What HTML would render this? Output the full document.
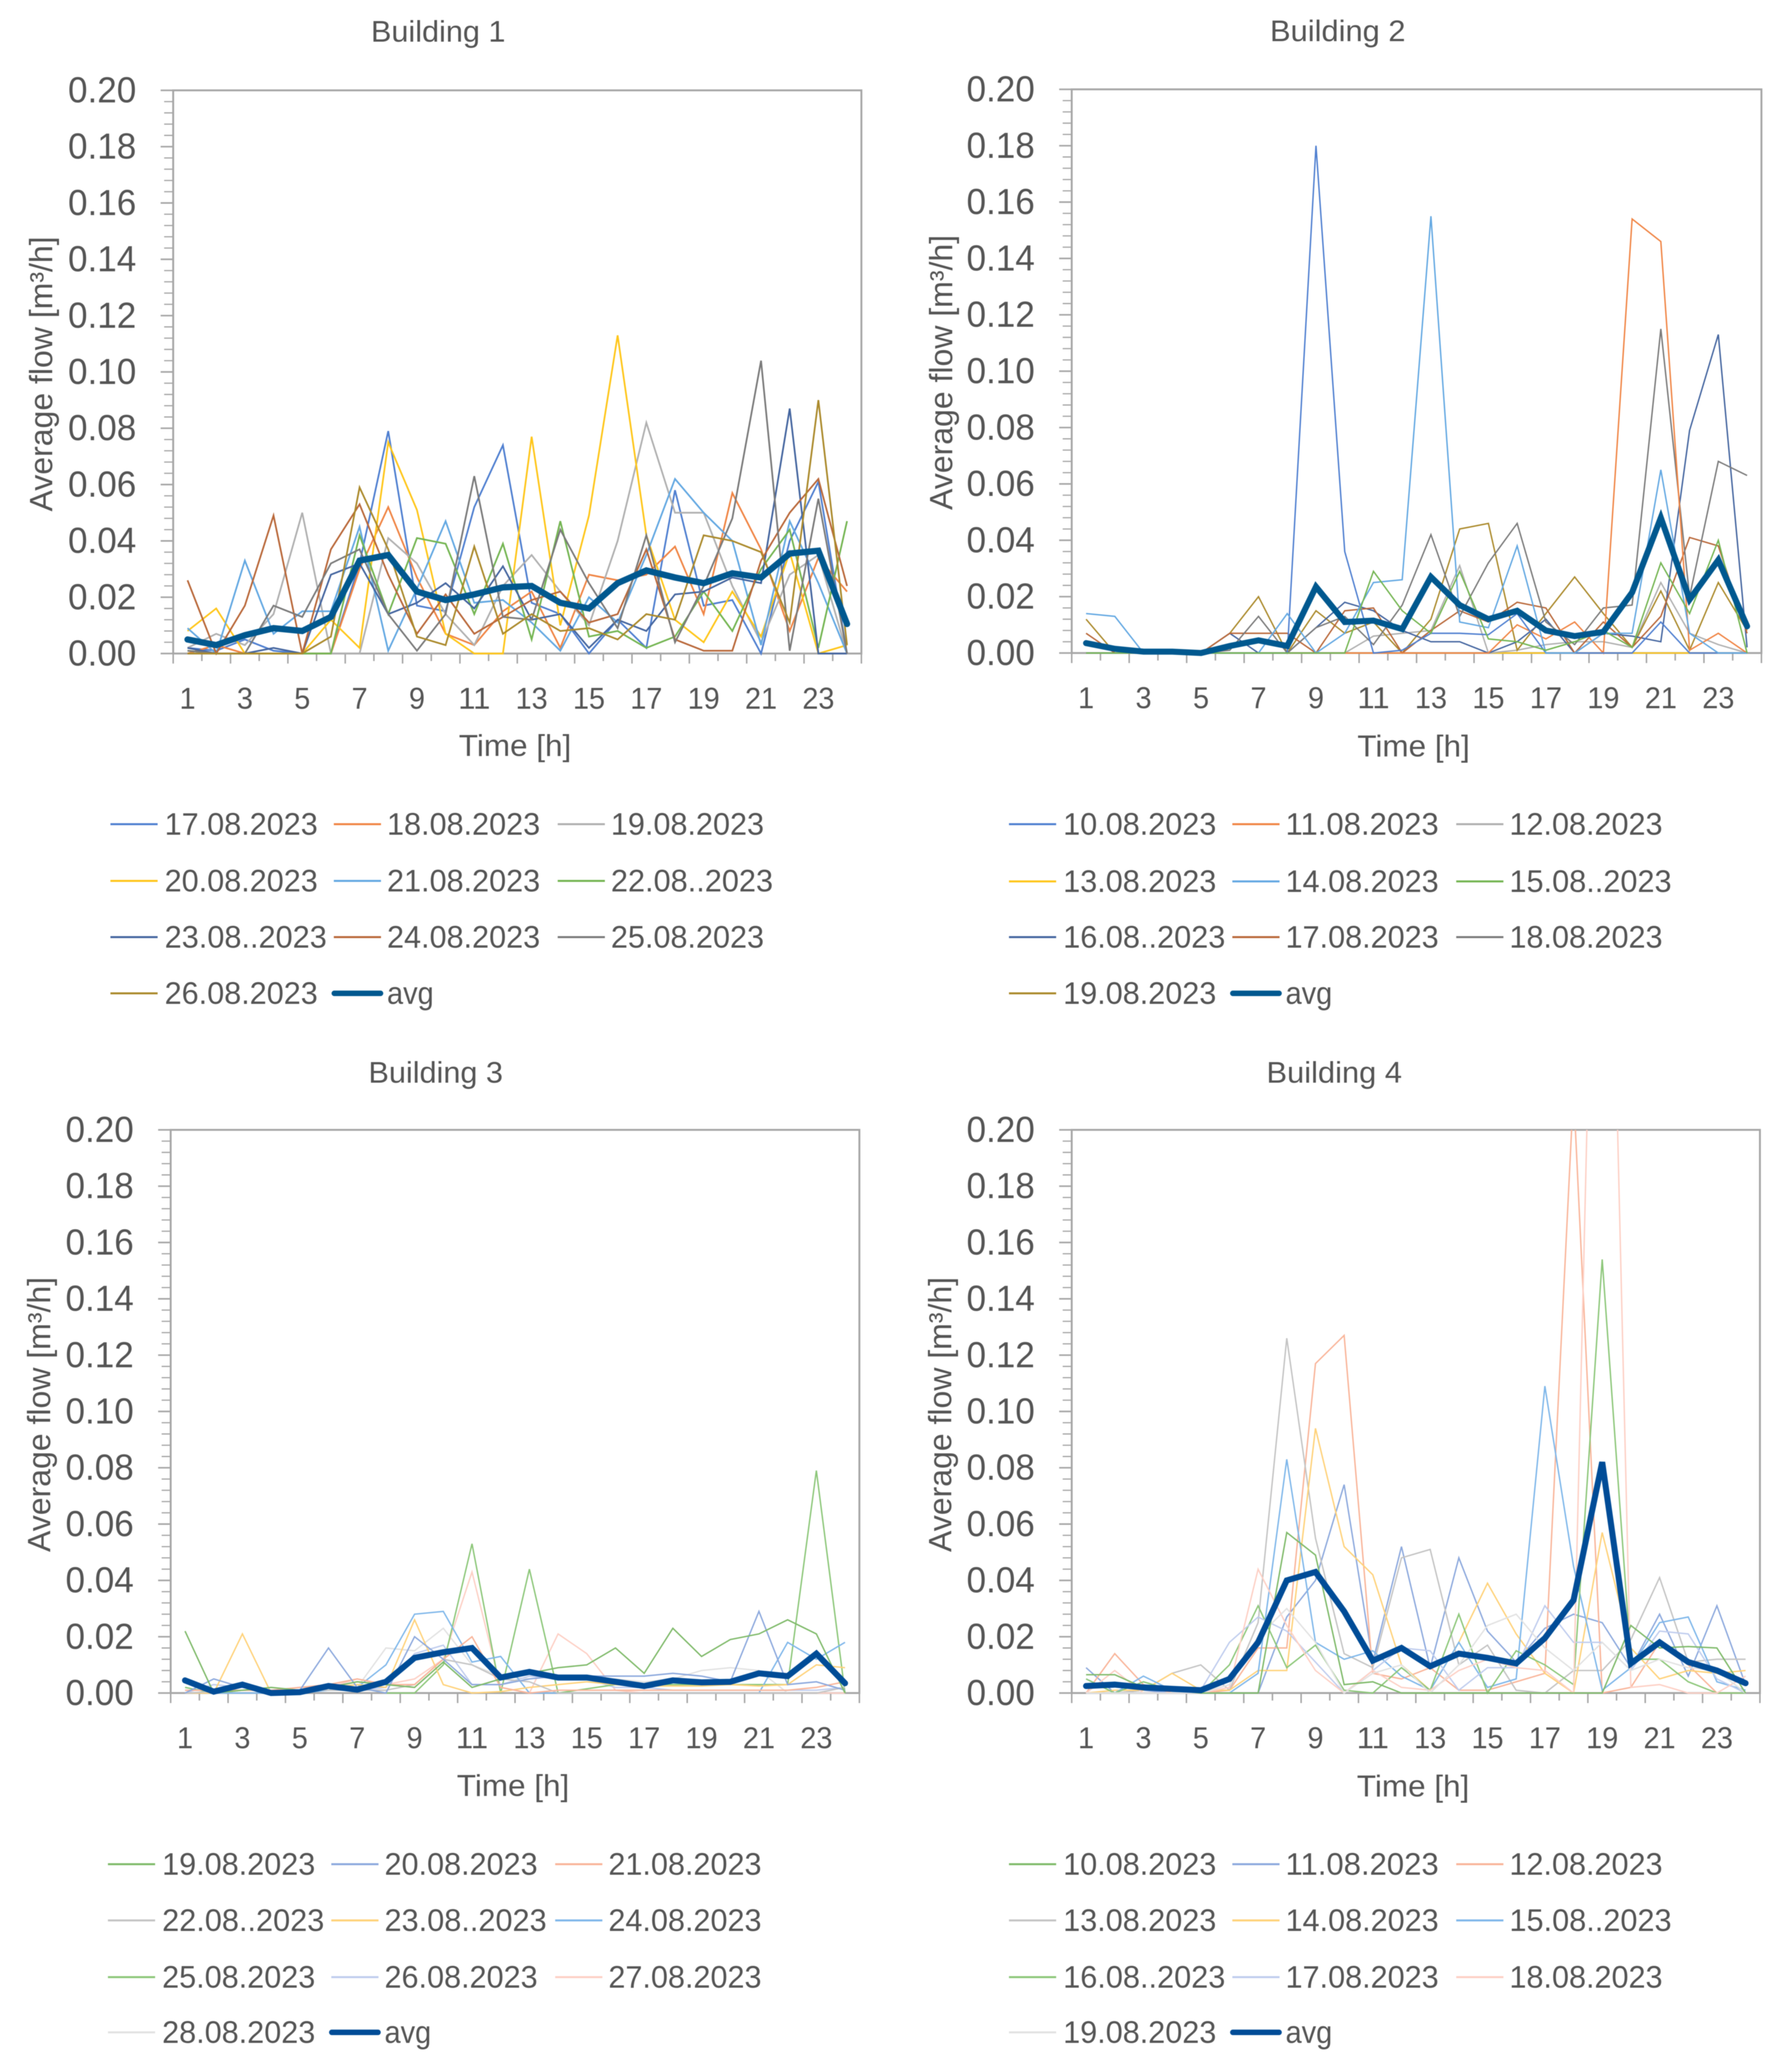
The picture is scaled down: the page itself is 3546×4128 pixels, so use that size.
<!DOCTYPE html>
<html lang="en">
<head>
<meta charset="utf-8">
<title>Average flow per building</title>
<style>
html,body{margin:0;padding:0;background:#fff;}
svg{display:block;filter:blur(0.9px);}
text{font-family:"Liberation Sans",sans-serif;fill:#555555;}
</style>
</head>
<body>
<svg id="figure" xmlns="http://www.w3.org/2000/svg" width="3546" height="4128" viewBox="0 0 3546 4128">
<rect x="0" y="0" width="3546" height="4128" fill="#ffffff"/>
<g id="panel1">
<text x="873" y="83" text-anchor="middle" font-size="59" textLength="268" lengthAdjust="spacingAndGlyphs">Building 1</text>
<text transform="translate(104,745) rotate(-90)" text-anchor="middle" font-size="64" textLength="548" lengthAdjust="spacingAndGlyphs">Average flow [m³/h]</text>
<text x="1026" y="1506" text-anchor="middle" font-size="60" textLength="224" lengthAdjust="spacingAndGlyphs">Time [h]</text>
</g>
<g id="panel2">
<text x="2665" y="82" text-anchor="middle" font-size="59" textLength="270" lengthAdjust="spacingAndGlyphs">Building 2</text>
<text transform="translate(1897,742) rotate(-90)" text-anchor="middle" font-size="64" textLength="548" lengthAdjust="spacingAndGlyphs">Average flow [m³/h]</text>
<text x="2816" y="1507" text-anchor="middle" font-size="60" textLength="224" lengthAdjust="spacingAndGlyphs">Time [h]</text>
</g>
<g id="panel3">
<text x="868" y="2157" text-anchor="middle" font-size="59" textLength="268" lengthAdjust="spacingAndGlyphs">Building 3</text>
<text transform="translate(100,2818) rotate(-90)" text-anchor="middle" font-size="64" textLength="548" lengthAdjust="spacingAndGlyphs">Average flow [m³/h]</text>
<text x="1022" y="3578" text-anchor="middle" font-size="60" textLength="224" lengthAdjust="spacingAndGlyphs">Time [h]</text>
</g>
<g id="panel4">
<text x="2658" y="2157" text-anchor="middle" font-size="59" textLength="270" lengthAdjust="spacingAndGlyphs">Building 4</text>
<text transform="translate(1895,2818) rotate(-90)" text-anchor="middle" font-size="64" textLength="548" lengthAdjust="spacingAndGlyphs">Average flow [m³/h]</text>
<text x="2815" y="3579" text-anchor="middle" font-size="60" textLength="224" lengthAdjust="spacingAndGlyphs">Time [h]</text>
</g>
</svg>
<script>
const hours = [1,2,3,4,5,6,7,8,9,10,11,12,13,14,15,16,17,18,19,20,21,22,23,24];
const xTickLabels = ['1','3','5','7','9','11','13','15','17','19','21','23'];
const yTickLabels = ['0.00','0.02','0.04','0.06','0.08','0.10','0.12','0.14','0.16','0.18','0.20'];

const b1Dates = ['17.08.2023','18.08.2023','19.08.2023','20.08.2023','21.08.2023','22.08..2023','23.08..2023','24.08.2023','25.08.2023','26.08.2023'];
const b1a = [.002,.001,.005,.001,0,0,.032,.079,.017,.015,.052,.074,.018,.014,0,.012,.002,.058,.017,.019,0,.04,.061,0];
const b1b = [0,.003,0,0,0,0,.03,.052,.027,.007,.003,.015,.022,.002,.028,.026,.028,.038,.014,.057,.037,.008,.034,.022];
const b1c = [.002,.007,.003,.014,.05,0,0,.041,.032,.014,.003,.024,.035,.022,.01,.04,.082,.05,.05,.024,.004,.028,.035,0];
const b1d = [.008,.016,0,0,0,.012,.002,.075,.051,.007,0,0,.077,.01,.049,.113,.042,.012,.004,.022,.006,.036,0,.003];
const b1e = [.009,0,.033,.007,.015,.015,.045,.001,.023,.047,.018,.019,.011,.001,.02,.011,.035,.062,.05,.04,.003,.047,.025,0];
const b1f = [.001,0,0,0,0,0,.042,.014,.041,.039,.014,.039,.005,.047,.006,.008,.002,.006,.022,.008,.03,.044,.002,.047];
const b1g = [.002,0,0,.002,0,.028,.032,.014,.018,.025,.016,.031,.012,.014,.002,.012,.008,.021,.022,.027,.025,.087,0,0];
const b1h = [.026,0,.017,.049,0,.037,.053,.028,.007,.021,.007,.013,.019,.022,.011,.014,.037,.005,.001,.001,.033,.05,.062,.024];
const b1i = [.001,0,0,.017,.013,.032,.037,.014,.001,.014,.063,.013,.012,.044,.025,.009,.042,.004,.024,.048,.104,.001,.055,0];
const b1j = [0,0,0,0,0,.006,.059,.037,.006,.003,.038,.007,.014,.008,.009,.005,.014,.012,.042,.04,.036,.011,.09,.003];
const b1Avg = [.005,.003,.0065,.009,.008,.013,.033,.035,.022,.019,.021,.0235,.024,.018,.016,.025,.0295,.027,.025,.0285,.027,.0355,.0365,.0105];

const b2Dates = ['10.08.2023','11.08.2023','12.08.2023','13.08.2023','14.08.2023','15.08..2023','16.08..2023','17.08.2023','18.08.2023','19.08.2023'];
const b2a = [0,0,0,0,0,0,0,0,.18,.036,0,.001,.007,.007,.0065,.014,0,0,0,0,.011,0,0,0];
const b2b = [0,0,0,0,0,0,0,0,0,0,0,0,0,0,0,.01,.005,.011,0,.154,.146,.001,.007,0];
const b2c = [0,0,0,0,0,0,0,0,0,0,.006,.007,.008,.031,0,.001,.003,.004,.004,.002,.025,.007,.003,0];
const b2d = [0,0,0,0,0,0,0,0,0,0,0,0,0,0,0,0,0,0,0,0,0,0,0,0];
const b2e = [.014,.013,0,0,0,0,0,.014,0,.007,.025,.026,.155,.011,.009,.038,0,0,.007,.007,.065,.007,0,0];
const b2f = [0,0,0,0,0,0,0,0,0,0,.029,.015,.007,.029,.005,.004,.001,.004,.008,.002,.032,.014,.04,0];
const b2g = [0,0,0,0,0,.007,0,0,.009,.018,.015,.008,.004,.004,0,.004,.012,0,.007,.006,.004,.079,.113,.002];
const b2h = [.007,0,0,0,0,.007,.007,.007,0,.015,.016,0,.008,.015,.011,.018,.016,0,.011,.002,.013,.041,.038,.007];
const b2i = [0,0,0,0,0,.001,.013,0,.009,.013,.003,.017,.042,.013,.032,.046,.011,.003,.016,.017,.115,.02,.068,.063];
const b2j = [.012,0,0,0,0,.007,.02,0,.015,.007,.011,0,.012,.044,.046,.001,.014,.027,.014,.002,.022,.001,.025,.008];
const b2Avg = [.0035,.0015,.0005,.0005,0,.0025,.0045,.0025,.0235,.011,.0115,.0085,.027,.017,.012,.015,.008,.006,.0075,.0215,.048,.019,.033,.0095];

const b3Dates = ['19.08.2023','20.08.2023','21.08.2023','22.08..2023','23.08..2023','24.08.2023','25.08.2023','26.08.2023','27.08.2023','28.08.2023'];
const b3a = [.022,0,.001,.002,.001,.002,.004,.003,.002,.011,.002,.005,.007,.009,.01,.016,.007,.023,.013,.019,.021,.026,.021,0];
const b3b = [0,.005,.002,0,.001,.016,.002,0,.02,.012,.003,.003,.005,.006,.006,.006,.006,.007,.006,.004,.029,.003,.004,.001];
const b3c = [.001,.001,.001,.001,.002,.003,.005,.003,.003,.012,.02,.002,0,.001,.001,.001,.001,.001,.001,.001,.001,.001,.002,.004];
const b3d = [0,.0005,.001,.001,.001,.001,.001,.001,.003,.012,.01,.005,.004,0,0,0,0,0,0,0,0,0,0,.002];
const b3e = [0,0,.021,0,.001,.002,.003,.002,.026,.003,0,.0005,.002,.003,.004,.003,.0025,.0025,.0025,.003,.0025,.003,.01,.009];
const b3f = [0,0,0,0,0,.001,.002,.01,.028,.029,.011,.013,0,0,0,0,0,0,0,0,0,.018,.012,.018];
const b3g = [.002,0,.001,.001,.001,.001,.002,0,0,.01,.053,0,.044,0,.0015,.003,.003,.003,.003,.003,.003,.003,.079,0];
const b3h = [0,.003,.002,0,0,.001,.001,.002,.014,.017,.003,.003,.006,.005,.005,.002,.002,.001,.001,.001,.001,.001,.001,.002];
const b3i = [.001,.001,.001,.001,.002,.002,.005,.003,.005,.012,.043,.002,0,.021,.014,.001,0,0,0,0,0,0,0,0];
const b3j = [0,0,0,0,0,.001,.002,.016,.015,.023,.01,.006,.005,.006,.005,.005,.004,.005,.008,.009,.008,0,0,0];
const b3Avg = [.0045,.0005,.003,0,.0003,.0025,.0012,.004,.0125,.0145,.016,.0055,.0075,.0055,.0055,.004,.0025,.0045,.0038,.004,.007,.006,.014,.0035];

const b4Dates = ['10.08.2023','11.08.2023','12.08.2023','13.08.2023','14.08.2023','15.08..2023','16.08..2023','17.08.2023','18.08.2023','19.08.2023'];
const b4a = [.0065,.0065,.002,.001,0,0,0,.057,.049,.003,.004,0,0,0,0,0,0,0,0,.024,.016,.0165,.016,0];
const b4b = [.009,0,.001,0,0,0,0,.027,.04,.074,.011,.052,.009,.048,.022,.011,.023,.028,.025,.009,.028,.006,.031,.003];
const b4c = [0,.014,.003,0,0,.001,.016,.016,.117,.127,.007,.005,.009,.001,.001,.004,.007,.214,0,.002,.018,.01,0,0];
const b4d = [0,0,.001,.007,.01,.001,.025,.126,.055,.014,.009,.048,.051,.01,.017,.001,0,.008,.008,.019,.041,.011,.012,.012];
const b4e = [0,.001,.001,.007,.001,.001,.008,.008,.094,.052,.042,.01,.001,.018,.039,.021,.007,0,.057,.016,.005,.008,.007,.008];
const b4f = [.005,0,.006,.001,0,0,.007,.083,.018,.012,.015,.006,.001,.018,.002,.005,.109,.045,.001,.009,.025,.027,.004,.001];
const b4g = [.005,0,.004,.001,0,.01,.031,.009,.017,.001,0,.009,.001,.028,0,.015,.01,.003,.154,.012,.012,.004,0,0];
const b4h = [0,0,0,0,.001,.018,.027,.022,.011,0,.008,.016,.015,.001,.009,.009,.031,.018,.018,.008,.022,.021,.005,0];
const b4i = [0,.008,0,0,0,.002,.044,.024,.008,0,.008,.002,.001,.008,.012,.009,.008,0,.43,.002,.003,0,0,.006];
const b4j = [0,0,0,0,0,.003,.02,.03,.018,0,.007,.01,0,.01,.024,.028,.016,.008,.018,.008,.012,.009,.008,0];
const b4Avg = [.0025,.003,.002,.0015,.001,.005,.018,.04,.043,.029,.0115,.016,.0095,.014,.0125,.0105,.0195,.033,.082,.0105,.018,.011,.008,.0035];

const strongPalette = ['#4f7fd0','#f08545','#b0b0b0','#ffc61a','#63a8e2','#74b552','#44659f','#b9683a','#7a7a7a','#ab8a2c'];
const softPalette = ['#7fba6a','#8da9dd','#f9b59a','#c4c4c4','#ffd27a','#7fb7ea','#8dc77a','#c0cdee','#fdd0c5','#e2e2e2'];

const panels = [
  {id:'panel1', left:345, right:1716, top:180, bottom:1302, legendTop:[1642,1755,1867,1979], thin:3.4, avgWidth:12.5, avgColor:'#00588f', palette:strongPalette, dates:b1Dates, series:[b1a,b1b,b1c,b1d,b1e,b1f,b1g,b1h,b1i,b1j], avg:b1Avg, order:[0,1,2,3,4,5,6,7,8,9]},
  {id:'panel2', left:2135, right:3509, top:178, bottom:1301, legendTop:[1642,1756,1867,1979], thin:2.8, avgWidth:12, avgColor:'#00588f', palette:strongPalette, dates:b2Dates, series:[b2a,b2b,b2c,b2d,b2e,b2f,b2g,b2h,b2i,b2j], avg:b2Avg, order:[3,2,9,6,7,8,1,0,4,5]},
  {id:'panel3', left:340, right:1712, top:2251, bottom:3373, legendTop:[3714,3826,3939,4049], thin:2.8, avgWidth:12, avgColor:'#004c97', palette:softPalette, dates:b3Dates, series:[b3a,b3b,b3c,b3d,b3e,b3f,b3g,b3h,b3i,b3j], avg:b3Avg, order:[9,8,7,6,5,4,3,2,1,0]},
  {id:'panel4', left:2135, right:3506, top:2251, bottom:3373, legendTop:[3714,3826,3939,4049], thin:2.8, avgWidth:12, avgColor:'#004c97', palette:softPalette, dates:b4Dates, series:[b4a,b4b,b4c,b4d,b4e,b4f,b4g,b4h,b4i,b4j], avg:b4Avg, order:[1,2,3,4,5,6,7,8,9,0]}
];

const SVGNS = 'http://www.w3.org/2000/svg';
const AXIS_COLOR = '#a6a6a6';
const Y_MAX = 0.2;

function make(parent, tag, attrs){
  const el = document.createElementNS(SVGNS, tag);
  for (const k in attrs) el.setAttribute(k, attrs[k]);
  parent.appendChild(el);
  return el;
}

panels.forEach(function(p, panelIndex){
  const g = document.getElementById(p.id);
  const plotW = p.right - p.left;
  const xScale = function(hour){ return p.left + (hour - 0.5) * plotW / hours.length; };
  const yScale = function(v){ return p.bottom - (v / Y_MAX) * (p.bottom - p.top); };

  const clipId = 'clip-' + p.id;
  const defs = make(g, 'defs', {});
  const clip = make(defs, 'clipPath', {id: clipId});
  make(clip, 'rect', {x: p.left - 5, y: p.top, width: plotW + 10, height: p.bottom - p.top + 8});

  const frame = make(g, 'rect', {x: p.left, y: p.top, width: plotW, height: p.bottom - p.top, fill: 'none', stroke: AXIS_COLOR, 'stroke-width': 3.8});
  
  

  const yTicks = make(g, 'g', {stroke: AXIS_COLOR});
  
  
  for (let i = 0; i <= 50; i++) {
    const v = i * Y_MAX / 50;
    const major = i % 5 === 0;
    const tick = make(yTicks, 'line', {x1: p.left - (major ? 25 : 18), x2: p.left, y1: yScale(v), y2: yScale(v), 'stroke-width': major ? 3.2 : 2.4});
    
    
  }

  const xTicks = make(g, 'g', {stroke: AXIS_COLOR});
  
  
  for (let i = 0; i <= hours.length; i++) {
    const x = xScale(i + 0.5);
    const tick = make(xTicks, 'line', {x1: x, x2: x, y1: p.bottom, y2: p.bottom + (i % 2 === 0 ? 20 : 15), 'stroke-width': 3});
    
    
  }

  yTickLabels.forEach(function(label){
    const t = make(g, 'text', {x: p.left - 73.5, y: yScale(parseFloat(label)) + 24, 'text-anchor': 'end', 'font-size': 72, textLength: 136, lengthAdjust: 'spacingAndGlyphs'});
    
    
    t.textContent = label;
  });

  xTickLabels.forEach(function(label){
    const t = make(g, 'text', {x: xScale(parseFloat(label)), y: p.bottom + 110, 'text-anchor': 'middle', 'font-size': 60, textLength: 32 * label.length, lengthAdjust: 'spacingAndGlyphs'});
    
    
    t.textContent = label;
  });

  const lines = make(g, 'g', {'clip-path': 'url(#' + clipId + ')', fill: 'none'});
  
  
  p.order.forEach(function(s){
    const values = p.series[s];
    const pts = values.map(function(v, i){ return xScale(hours[i]).toFixed(1) + ',' + yScale(v).toFixed(1); }).join(' ');
    const line = make(lines, 'polyline', {points: pts, stroke: p.palette[s], 'stroke-width': p.thin, 'stroke-linejoin': 'miter'});
    
    
  });
  const avgPts = p.avg.map(function(v, i){ return xScale(hours[i]).toFixed(1) + ',' + yScale(v).toFixed(1); }).join(' ');
  const avgLine = make(lines, 'polyline', {points: avgPts, stroke: p.avgColor, 'stroke-width': p.avgWidth, 'stroke-linejoin': 'miter', 'stroke-linecap': 'round'});
  
  

  const legend = make(g, 'g', {});
  
  
  const colLine = [-125, 320, 766];
  const colText = [-17, 426, 872];
  p.dates.forEach(function(label, s){
    const col = s % 3;
    const row = Math.floor(s / 3);
    const y = p.legendTop[row];
    const key = make(legend, 'line', {x1: p.left + colLine[col], x2: p.left + colLine[col] + 94, y1: y, y2: y, stroke: p.palette[s], 'stroke-width': 4});
    
    
    const t = make(legend, 'text', {x: p.left + colText[col], y: y + 21, 'font-size': 62, textLength: label.indexOf('..') >= 0 ? 323 : 305, lengthAdjust: 'spacingAndGlyphs'});
    
    
    t.textContent = label;
  });
  const avgY = p.legendTop[3];
  const avgKey = make(legend, 'line', {x1: p.left + 321, x2: p.left + 413, y1: avgY, y2: avgY, stroke: p.avgColor, 'stroke-width': 11, 'stroke-linecap': 'round'});
  
  
  const avgText = make(legend, 'text', {x: p.left + 426, y: avgY + 21, 'font-size': 62, textLength: 93, lengthAdjust: 'spacingAndGlyphs'});
  
  
  avgText.textContent = 'avg';
});
</script>
</body>
</html>
